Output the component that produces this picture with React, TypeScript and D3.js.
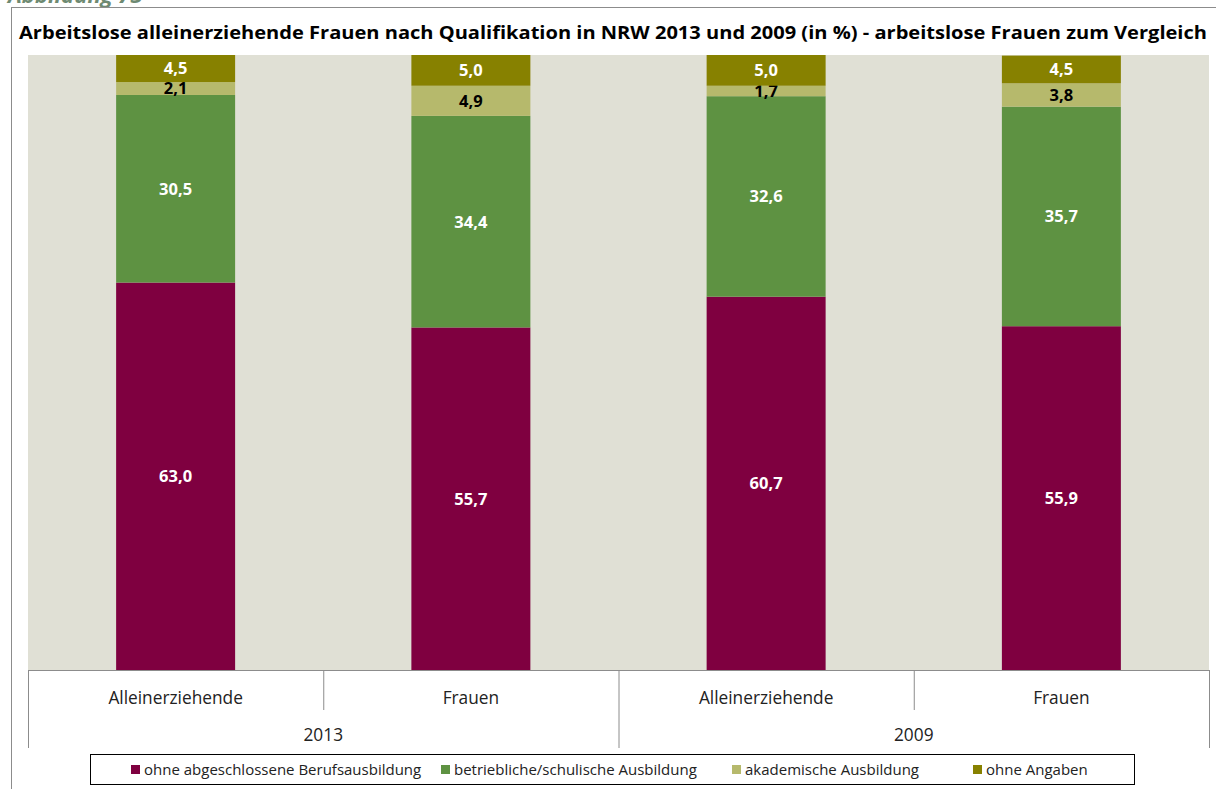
import React from "react";
import * as d3 from "d3";

const categories = ["Alleinerziehende", "Frauen", "Alleinerziehende", "Frauen"];
const years = ["2013", "2009"];
const seriesNames = [
  "ohne abgeschlossene Berufsausbildung",
  "betriebliche/schulische Ausbildung",
  "akademische Ausbildung",
  "ohne Angaben",
];
const ohneAbschluss = [63.0, 55.7, 60.7, 55.9];
const betrieblich = [30.5, 34.4, 32.6, 35.7];
const akademisch = [2.1, 4.9, 1.7, 3.8];
const ohneAngaben = [4.5, 5.0, 5.0, 4.5];

const colors = ["#7f0040", "#5e9242", "#b6b96c", "#878100"];
const labelColors = ["#ffffff", "#ffffff", "#000000", "#ffffff"];
const font = "'Open Sans', Lato, sans-serif";

export default function App() {
  const W = 1216, H = 789;
  const left = 28, right = 1209, top = 55, bottom = 670;
  const x = d3.scaleBand<number>().domain(d3.range(categories.length)).range([left, right]).padding(0);
  const xg = d3.scaleBand<number>().domain(d3.range(years.length)).range([left, right]).padding(0);
  const y = d3.scaleLinear().domain([0, 100]).range([bottom, top]);
  const barW = x.bandwidth() * 0.403;

  const rows = categories.map((c, i) => ({
    i,
    v0: ohneAbschluss[i],
    v1: betrieblich[i],
    v2: akademisch[i],
    v3: ohneAngaben[i],
  }));
  const stack = d3.stack<any>().keys(["v0", "v1", "v2", "v3"])(rows as any);

  const fmt = (v: number) => v.toFixed(1).replace(".", ",");
  const legendX = [131, 441, 732, 973];

  return (
    <svg width={W} height={H} style={{ position: "absolute", left: 0, top: 0, background: "#fff" }}>
      <text x={8} y={3} fontFamily={font} fontSize={22} fontWeight="bold" fontStyle="italic" fill="#6e8a72">Abbildung 73</text>
      <line x1={11.5} y1={7} x2={11.5} y2={H} stroke="#8c8c8c" />
      <line x1={11} y1={7.5} x2={W} y2={7.5} stroke="#8c8c8c" />
      <text x={19} y={39} fontFamily={font} fontSize={17} fontWeight="bold" fill="#000"
        textLength={1188} lengthAdjust="spacingAndGlyphs">
        Arbeitslose alleinerziehende Frauen nach Qualifikation in NRW 2013 und 2009 (in %) - arbeitslose Frauen zum Vergleich
      </text>
      <rect x={left} y={top} width={right - left} height={bottom - top} fill="#e0e0d5" />
      {stack.map((s, si) => (
        <g key={si}>
          {s.map((d, di) => {
            const cx = (x(di) as number) + x.bandwidth() / 2;
            const y0 = y(d[0]), y1 = y(Math.min(d[1], 100));
            const val = (d.data as any)[`v${si}`];
            return (
              <g key={di}>
                <rect x={cx - barW / 2} y={y1} width={barW} height={y0 - y1} fill={colors[si]} />
                <text x={cx} y={(y0 + y1) / 2} dy="0.36em" textAnchor="middle" fontFamily={font}
                  fontSize={16.5} fontWeight="bold" fill={labelColors[si]}>{fmt(val)}</text>
              </g>
            );
          })}
        </g>
      ))}
      <line x1={left} y1={bottom + 0.5} x2={right} y2={bottom + 0.5} stroke="#8c8c8c" />
      {categories.map((c, i) => (
        <g key={i}>
          {i % 2 === 1 && (
            <line x1={(x(i) as number) + 0.5} y1={bottom} x2={(x(i) as number) + 0.5} y2={710} stroke="#8c8c8c" />
          )}
          <text x={(x(i) as number) + x.bandwidth() / 2} y={698} dy="0.36em" textAnchor="middle"
            fontFamily={font} fontSize={17.3} fill="#222">{c}</text>
        </g>
      ))}
      {[0, 1, 2].map((k) => {
        const gx = k < years.length ? (xg(k) as number) : right;
        return <line key={k} x1={gx + 0.5} y1={bottom} x2={gx + 0.5} y2={748} stroke="#8c8c8c" />;
      })}
      {years.map((yr, k) => (
        <text key={yr} x={(xg(k) as number) + xg.bandwidth() / 2} y={735} dy="0.36em" textAnchor="middle"
          fontFamily={font} fontSize={17.3} fill="#222">{yr}</text>
      ))}
      <rect x={90.5} y={754.5} width={1044} height={30} fill="#fff" stroke="#000" />
      {seriesNames.map((n, i) => (
        <g key={n}>
          <rect x={legendX[i]} y={765} width={9} height={9} fill={colors[i]} />
          <text x={legendX[i] + 13} y={770} dy="0.36em" fontFamily={font} fontSize={15} fill="#222">{n}</text>
        </g>
      ))}
    </svg>
  );
}
